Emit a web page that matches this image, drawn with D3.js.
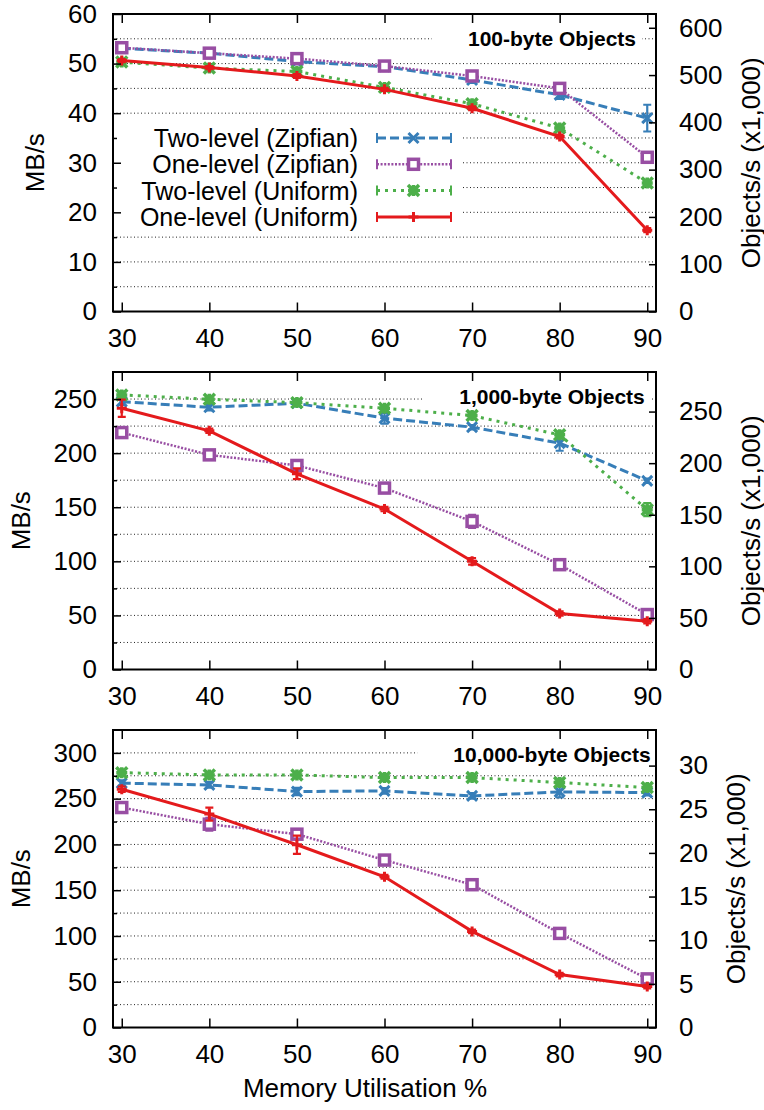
<!DOCTYPE html>
<html>
<head>
<meta charset="utf-8">
<script src="https://cdn.jsdelivr.net/npm/d3@7"></script>
<style>
  body { margin: 0; background: #fff; }
  text { font-family: "Liberation Sans", Arial, Helvetica, sans-serif; fill: #000; }
</style>
</head>
<body>
<div class="chart"></div>
<script>
// ---------------- data ----------------
var utilisation = [30, 40, 50, 60, 70, 80, 90];
var seriesNames = ["Two-level (Zipfian)", "One-level (Zipfian)", "Two-level (Uniform)", "One-level (Uniform)"];
var panelTitles = ["100-byte Objects", "1,000-byte Objects", "10,000-byte Objects"];
var objectBytes = [100, 1000, 10000];
var mbMax = [60, 275, 325];
var mbGridStep = [5, 25, 25];
var mbLabelStep = [10, 50, 50];
var objTicks = [
  [0, 100, 200, 300, 400, 500, 600],
  [0, 50, 100, 150, 200, 250],
  [0, 5, 10, 15, 20, 25, 30]
];

// 100-byte objects, MB/s
var twoZipf100 = [53.1, 52.1, 50.4, 49.4, 46.7, 43.7, 39.0];
var oneZipf100 = [53.2, 52.1, 51.0, 49.5, 47.5, 45.0, 31.1];
var twoUni100  = [50.3, 49.1, 48.4, 45.2, 41.9, 37.0, 25.9];
var oneUni100  = [50.6, 49.2, 47.5, 44.8, 41.0, 35.3, 16.4];
var twoZipf100Err = [0.4, 0.3, 0.5, 0.3, 0.6, 0.8, 2.7];
var oneZipf100Err = [0.5, 0.3, 0.5, 0.3, 0.4, 0.4, 0.5];
var twoUni100Err  = [0.3, 0.3, 0.4, 0.4, 0.5, 0.6, 0.5];
var oneUni100Err  = [0.3, 0.3, 0.4, 0.3, 0.4, 0.4, 0.4];

// 1,000-byte objects, MB/s
var twoZipf1k = [247.6, 242.4, 246.1, 232.3, 224.0, 209.2, 174.4];
var oneZipf1k = [219.0, 198.4, 188.6, 167.7, 136.9, 96.9, 50.8];
var twoUni1k  = [253.8, 249.8, 246.7, 241.5, 234.7, 216.9, 147.7];
var oneUni1k  = [241.5, 220.6, 180.9, 148.3, 100.0, 51.7, 44.6];
var twoZipf1kErr = [3, 3, 2, 5, 2, 7, 2];
var oneZipf1kErr = [2, 2, 3, 2, 6, 2, 2];
var twoUni1kErr  = [3, 3, 3, 3, 2, 3, 6];
var oneUni1kErr  = [8, 2, 5, 2, 3, 2, 2];

// 10,000-byte objects, MB/s
var twoZipf10k = [266.9, 265.0, 257.7, 258.5, 253.0, 257.4, 256.6];
var oneZipf10k = [240.3, 222.1, 211.2, 182.9, 156.0, 102.8, 53.1];
var twoUni10k  = [278.4, 275.9, 275.9, 273.0, 273.0, 267.6, 262.1];
var oneUni10k  = [260.3, 233.1, 199.6, 164.7, 105.0, 57.8, 44.7];
var twoZipf10kErr = [3, 3, 4, 3, 3, 6, 3];
var oneZipf10kErr = [3, 7, 3, 3, 3, 3, 3];
var twoUni10kErr  = [3, 3, 3, 3, 2, 4, 2];
var oneUni10kErr  = [3, 7, 10, 2, 2, 2, 2];

var panelValues = [
  [twoZipf100, oneZipf100, twoUni100, oneUni100],
  [twoZipf1k, oneZipf1k, twoUni1k, oneUni1k],
  [twoZipf10k, oneZipf10k, twoUni10k, oneUni10k]
];
var panelErrors = [
  [twoZipf100Err, oneZipf100Err, twoUni100Err, oneUni100Err],
  [twoZipf1kErr, oneZipf1kErr, twoUni1kErr, oneUni1kErr],
  [twoZipf10kErr, oneZipf10kErr, twoUni10kErr, oneUni10kErr]
];

// ---------------- styles / layout ----------------
var seriesStyle = [
  {color: "#377eb8", dash: "9,4", width: 3, marker: "x"},
  {color: "#984ea3", dash: "2,1.6", width: 2.5, marker: "square"},
  {color: "#4daf4a", dash: "3,5", width: 3, marker: "star"},
  {color: "#e41a1c", dash: null, width: 3, marker: "plus"}
];

var svgWidth = 764;
var svgHeight = 1110;
var plotLeft = 113;
var plotRight = 656;
var panelTop = [14, 372, 730];
var panelHeight = 297.5;
var fontSize = 26;

var svg = d3.select(".chart")
  .append("svg")
  .attr("width", svgWidth)
  .attr("height", svgHeight);

var x = d3.scaleLinear().domain([29, 91]).range([plotLeft, plotRight]);

// draw one point marker
function drawMarker(g, type, color, cx, cy) {
  var s = 5;
  if (type === "x") {
    g.append("path")
      .attr("d", `M${cx - s},${cy - s}L${cx + s},${cy + s}M${cx - s},${cy + s}L${cx + s},${cy - s}`)
      .attr("stroke", color).attr("stroke-width", 3).attr("fill", "none");
  } else if (type === "square") {
    g.append("rect")
      .attr("x", cx - 5).attr("y", cy - 5).attr("width", 10).attr("height", 10)
      .attr("fill", "#fff").attr("stroke", color).attr("stroke-width", 3.5);
  } else if (type === "star") {
    s = 5.5;
    g.append("path")
      .attr("d", `M${cx - s},${cy - s}L${cx + s},${cy + s}M${cx - s},${cy + s}L${cx + s},${cy - s}` +
                 `M${cx - s},${cy}L${cx + s},${cy}M${cx},${cy - s}L${cx},${cy + s}`)
      .attr("stroke", color).attr("stroke-width", 3.5).attr("fill", "none");
  } else {
    g.append("path")
      .attr("d", `M${cx - s},${cy}L${cx + s},${cy}M${cx},${cy - s}L${cx},${cy + s}`)
      .attr("stroke", color).attr("stroke-width", 3).attr("fill", "none");
  }
}

function drawPanel(p) {
  var top = panelTop[p];
  var bottom = top + panelHeight;
  var g = svg.append("g");

  var y = d3.scaleLinear().domain([0, mbMax[p]]).range([bottom, top]);
  // right axis: thousands of objects per second, MB here is 2^20 bytes
  var objMax = mbMax[p] * 1048576 / (objectBytes[p] * 1000);
  var y2 = d3.scaleLinear().domain([0, objMax]).range([bottom, top]);

  // gridlines
  var gridVals = d3.range(mbGridStep[p], mbMax[p], mbGridStep[p]);
  g.append("g").selectAll("line")
    .data(gridVals)
    .join("line")
    .attr("x1", plotLeft).attr("x2", plotRight)
    .attr("y1", d => y(d)).attr("y2", d => y(d))
    .attr("stroke", "#222").attr("stroke-width", 1)
    .attr("stroke-dasharray", "1,2.5");

  // panel title with white backing
  var titleG = g.append("g");
  var titleBg = titleG.append("rect").attr("fill", "#fff");
  var title = titleG.append("text")
    .attr("x", 552).attr("y", top + 31.5)
    .attr("text-anchor", "middle")
    .attr("font-weight", "bold")
    .attr("font-size", 21)
    .text(panelTitles[p]);
  var tw = title.node().getComputedTextLength();
  titleBg.attr("x", 552 - tw / 2 - 36).attr("y", top + 16)
    .attr("width", tw + 42).attr("height", 20);

  // legend (first panel only)
  if (p === 0) {
    var lg = g.append("g");
    lg.append("rect")
      .attr("x", plotLeft + 1).attr("y", top + 108)
      .attr("width", 462 - plotLeft).attr("height", 110)
      .attr("fill", "#fff");
    seriesNames.forEach(function(name, i) {
      var ry = top + 124 + i * 26.3;
      var st = seriesStyle[i];
      lg.append("text")
        .attr("x", 358).attr("y", ry + 9)
        .attr("text-anchor", "end")
        .attr("font-size", 25)
        .text(name);
      lg.append("line")
        .attr("x1", 377).attr("x2", 451).attr("y1", ry).attr("y2", ry)
        .attr("stroke", st.color).attr("stroke-width", st.width)
        .attr("stroke-dasharray", st.dash);
      [377, 451].forEach(function(cx) {
        lg.append("line")
          .attr("x1", cx).attr("x2", cx).attr("y1", ry - 5).attr("y2", ry + 5)
          .attr("stroke", st.color).attr("stroke-width", 2);
      });
      drawMarker(lg, st.marker, st.color, 413.5, ry);
    });
  }

  // series: lines, error bars, markers
  panelValues[p].forEach(function(vals, i) {
    var st = seriesStyle[i];
    var errs = panelErrors[p][i];
    var pts = utilisation.map((u, k) => ({u: u, v: vals[k], e: errs[k]}));
    var sg = g.append("g");

    sg.append("path")
      .datum(pts)
      .attr("d", d3.line().x(d => x(d.u)).y(d => y(d.v)))
      .attr("fill", "none")
      .attr("stroke", st.color)
      .attr("stroke-width", st.width)
      .attr("stroke-dasharray", st.dash);

    pts.forEach(function(d) {
      var cx = x(d.u);
      var y0 = y(d.v - d.e), y1 = y(d.v + d.e);
      sg.append("path")
        .attr("d", `M${cx},${y0}L${cx},${y1}M${cx - 4},${y0}L${cx + 4},${y0}M${cx - 4},${y1}L${cx + 4},${y1}`)
        .attr("stroke", st.color).attr("stroke-width", 2.2).attr("fill", "none");
      drawMarker(sg, st.marker, st.color, cx, y(d.v));
    });
  });

  // axes
  g.append("g")
    .attr("transform", `translate(0,${bottom})`)
    .call(d3.axisBottom(x).tickValues(utilisation).tickSizeInner(-9).tickSizeOuter(0).tickPadding(17));
  g.append("g")
    .attr("transform", `translate(0,${top})`)
    .call(d3.axisTop(x).tickValues(utilisation).tickSizeInner(-9).tickSizeOuter(0).tickFormat(""));

  var minorVals = gridVals.filter(d => d % mbLabelStep[p] !== 0);
  var majorVals = d3.range(0, mbMax[p] + 1, mbLabelStep[p]);
  var yAxis = g.append("g")
    .attr("transform", `translate(${plotLeft},0)`)
    .call(d3.axisLeft(y).tickValues(majorVals).tickSizeInner(-8).tickSizeOuter(0).tickPadding(16));
  g.append("g")
    .attr("transform", `translate(${plotLeft},0)`)
    .call(d3.axisLeft(y).tickValues(minorVals).tickSizeInner(-4).tickSizeOuter(0).tickFormat(""));

  var y2Axis = g.append("g")
    .attr("transform", `translate(${plotRight},0)`)
    .call(d3.axisRight(y2).tickValues(objTicks[p]).tickSizeInner(-7).tickSizeOuter(0).tickPadding(23));

  g.selectAll(".domain").remove();
  g.selectAll(".tick line").attr("stroke", "#000").attr("stroke-width", 1.5);
  g.selectAll(".tick text")
    .attr("font-size", fontSize)
    .attr("font-family", "Liberation Sans, Arial, sans-serif")
    .attr("fill", "#000");

  // frame
  g.append("rect")
    .attr("x", plotLeft).attr("y", top)
    .attr("width", plotRight - plotLeft).attr("height", panelHeight)
    .attr("fill", "none").attr("stroke", "#000").attr("stroke-width", 2);

  // axis titles, placed beside the widest tick label
  var leftW = d3.max(yAxis.selectAll(".tick text").nodes(), n => n.getComputedTextLength());
  var rightW = d3.max(y2Axis.selectAll(".tick text").nodes(), n => n.getComputedTextLength());
  var midY = (top + bottom) / 2;
  var lx = plotLeft - 16 - leftW - 33;
  g.append("text")
    .attr("transform", `translate(${lx},${midY}) rotate(-90)`)
    .attr("text-anchor", "middle")
    .attr("dy", "0.35em")
    .attr("font-size", fontSize)
    .text("MB/s");
  var rx = plotRight + 23 + rightW + 28;
  g.append("text")
    .attr("transform", `translate(${rx},${midY}) rotate(-90)`)
    .attr("text-anchor", "middle")
    .attr("dy", "0.35em")
    .attr("font-size", fontSize)
    .text("Objects/s (x1,000)");
}

[0, 1, 2].forEach(drawPanel);

svg.append("text")
  .attr("x", 365)
  .attr("y", 1097)
  .attr("text-anchor", "middle")
  .attr("font-size", fontSize)
  .text("Memory Utilisation %");
</script>
</body>
</html>
